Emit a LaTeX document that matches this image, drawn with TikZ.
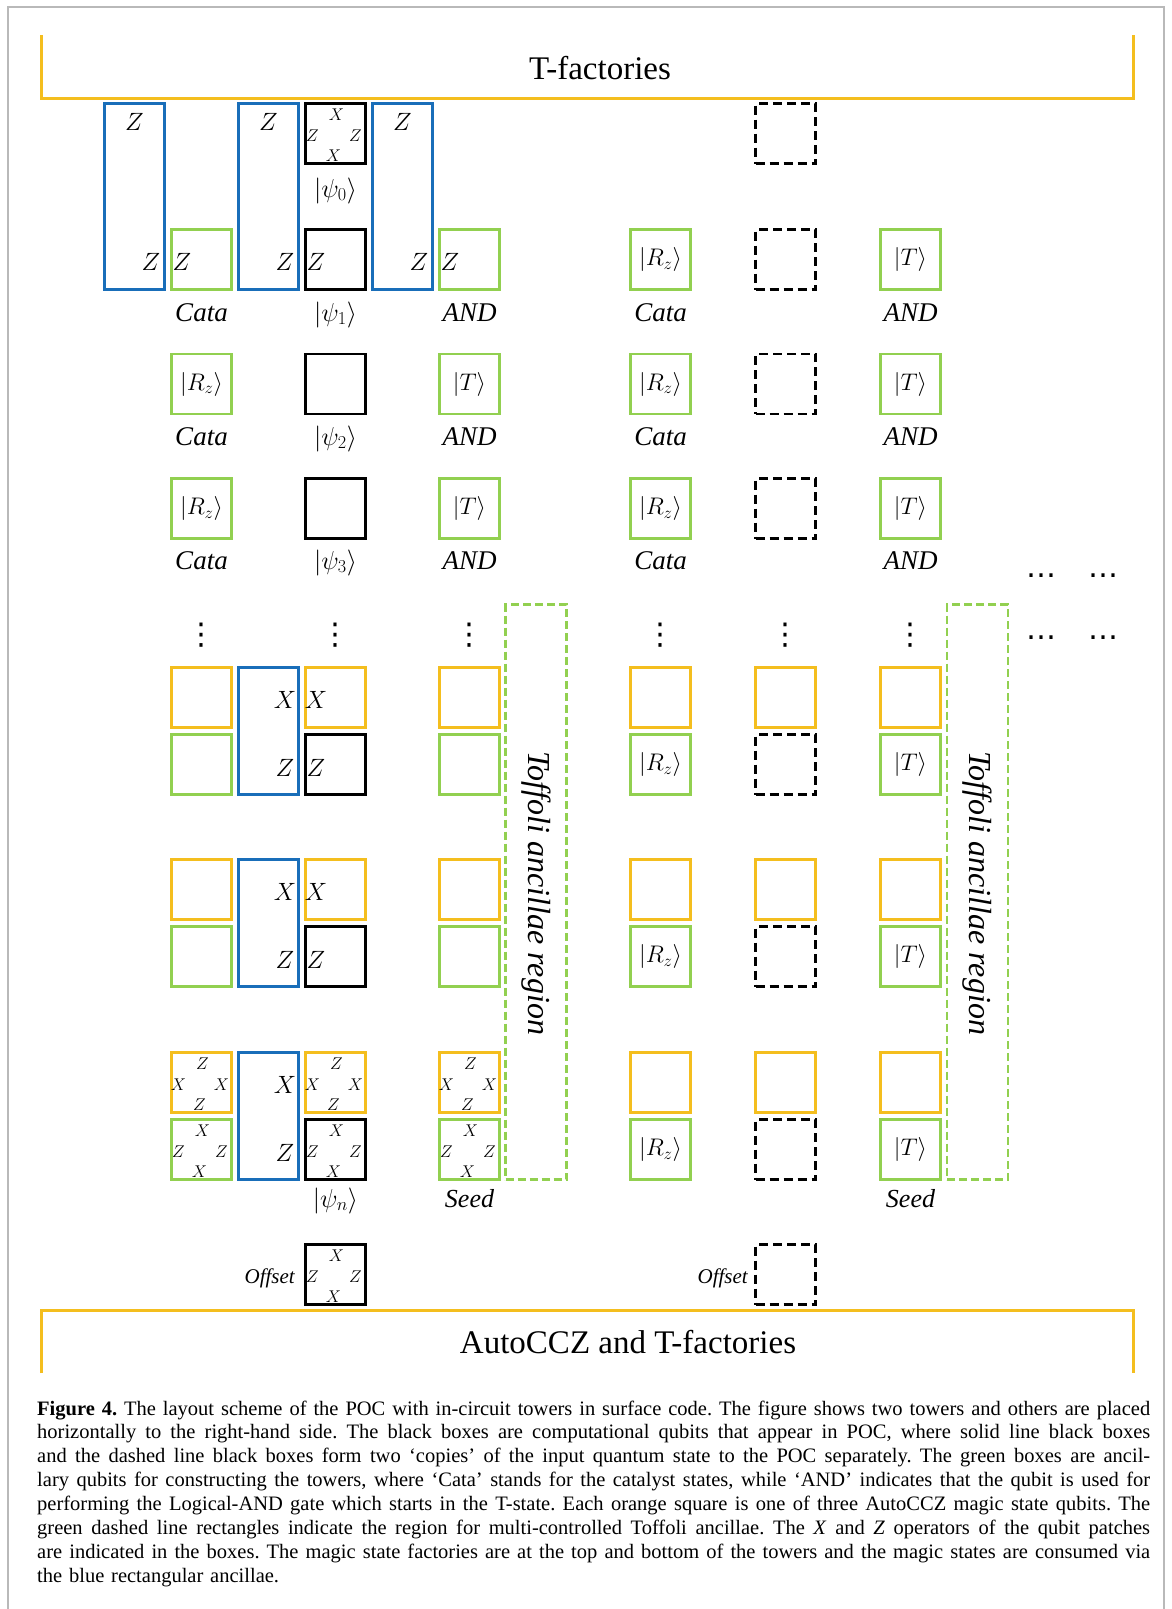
\RequirePackage{fix-cm}
\documentclass[tikz,border=0pt]{standalone}
\usepackage{fontspec}
\setmainfont{Liberation Serif}
\newfontfamily\dejavu{DejaVu Sans}
\definecolor{qyel}{RGB}{244,190,30}
\definecolor{qblue}{RGB}{25,110,185}
\definecolor{qgreen}{RGB}{146,208,80}
\definecolor{framec}{RGB}{185,185,185}
\tikzset{
  qb/.style={draw, line width=2.6pt, minimum width=60pt, minimum height=60pt, inner sep=0pt, font=\fontsize{24}{24}\selectfont},
  gq/.style={qb, draw=qgreen},
  yq/.style={qb, draw=qyel},
  kq/.style={qb, draw=black},
  dq/.style={qb, draw=black, dash pattern=on 9pt off 5pt},
  bq/.style={qb, draw=qblue, minimum height=#1},
  sm/.style={inner sep=0pt, font=\fontsize{17}{17}\selectfont},
  big/.style={inner sep=0pt, font=\fontsize{25}{25}\selectfont},
  lab/.style={inner sep=0pt, anchor=base, font=\fontsize{27}{27}\selectfont\itshape},
  klab/.style={inner sep=0pt, anchor=base, font=\fontsize{26}{26}\selectfont},
  offl/.style={inner sep=0pt, anchor=base east, font=\fontsize{21}{21}\selectfont\itshape},
  brk/.style={draw=qyel, line width=3pt},
  btxt/.style={inner sep=0pt, anchor=base, font=\fontsize{33}{33}\selectfont},
  tof/.style={draw=qgreen, line width=2.6pt, dash pattern=on 8pt off 4pt, minimum width=61pt, minimum height=575pt, inner sep=0pt},
  toftxt/.style={inner sep=0pt, rotate=-90, font=\fontsize{32}{32}\selectfont\itshape},
  dots/.style={inner sep=0pt, font=\dejavu\fontsize{30}{30}\selectfont},
}
\newcommand\zxpat[1]{%
  \node[sm] (#1-t) at ([shift={(1,-19)}]#1.center) {$Z$};
  \node[sm] (#1-l) at ([shift={(-23,2)}]#1.center) {$X$};
  \node[sm] (#1-r) at ([shift={(20,2)}]#1.center) {$X$};
  \node[sm] (#1-b) at ([shift={(-2,22.5)}]#1.center) {$Z$};}
\newcommand\xzpat[1]{%
  \node[sm] (#1-t) at ([shift={(1,-19)}]#1.center) {$X$};
  \node[sm] (#1-l) at ([shift={(-23,2)}]#1.center) {$Z$};
  \node[sm] (#1-r) at ([shift={(20,2)}]#1.center) {$Z$};
  \node[sm] (#1-b) at ([shift={(-2,22.5)}]#1.center) {$X$};}
\newcommand\capline[1]{\hbox to 1113pt{\spaceskip=0.25em plus 1em minus 0.09em\relax#1}}
\begin{document}
\begin{tikzpicture}[x=1pt,y=-1pt]
\useasboundingbox (0,0) rectangle (1171,1609);
\fill[white] (0,0) rectangle (1171,1609);
\draw[framec, line width=2pt] (8,1615) -- (8,7) -- (1164,7) -- (1164,1615);

% factory brackets
\coordinate (ta) at (41,35); \coordinate (tb) at (41,98);
\coordinate (tc) at (1133,98); \coordinate (td) at (1133,35);
\draw[brk] (ta) -- (tb) -- (tc) -- (td);
\node[btxt] (ttxt) at (600,79) {T-factories};
\coordinate (ba) at (41,1373); \coordinate (bb) at (41,1310);
\coordinate (bc) at (1133,1310); \coordinate (bd) at (1133,1373);
\draw[brk] (ba) -- (bb) -- (bc) -- (bd);
\node[btxt] (btxt) at (628,1353) {AutoCCZ and T-factories};

% ---------- left tower, top part ----------
\node[bq=186pt] (b1) at (134.5,196.5) {};
\node[bq=186pt] (b3) at (268.5,196.5) {};
\node[bq=186pt] (b5) at (402.5,196.5) {};
\node[big] (b1zt) at (134.5,122) {$Z$};
\node[big] (b3zt) at (268.5,122) {$Z$};
\node[big] (b5zt) at (402.5,122) {$Z$};
\node[big] (b1zb) at (151,262) {$Z$};
\node[big] (b3zb) at (285,262) {$Z$};
\node[big] (b5zb) at (419,262) {$Z$};
\node[kq] (p0) at (335.5,133.5) {}; \xzpat{p0}
\node[klab] (p0l) at (335.5,197) {$|\psi_0\rangle$};

\node[gq] (ca1) at (201.5,259.5) {};
\node[kq] (p1) at (335.5,259.5) {};
\node[gq] (an1) at (469.5,259.5) {};
\node[big] (ca1z) at (182,262) {$Z$};
\node[big] (p1z) at (316,262) {$Z$};
\node[big] (an1z) at (450,262) {$Z$};
\node[lab] (ca1l) at (201.5,321) {Cata};
\node[klab] (p1l) at (335.5,321) {$|\psi_1\rangle$};
\node[lab] (an1l) at (469.5,321) {AND};

\foreach \r/\y/\yb in {2/384/445, 3/508.5/569} {
  \node[gq] (ca\r) at (201.5,\y) {$|R_z\rangle$};
  \node[kq] (p\r) at (335.5,\y) {};
  \node[gq] (an\r) at (469.5,\y) {$|T\rangle$};
  \node[lab] (ca\r l) at (201.5,\yb) {Cata};
  \node[klab] (p\r l) at (335.5,\yb) {$|\psi_{\r}\rangle$};
  \node[lab] (an\r l) at (469.5,\yb) {AND};
}

% ---------- right tower, top part ----------
\node[dq] (q0) at (785.5,133.5) {};
\foreach \r/\y/\yb in {1/259.5/321, 2/384/445, 3/508.5/569} {
  \node[gq] (rz\r) at (660.5,\y) {$|R_z\rangle$};
  \node[dq] (q\r) at (785.5,\y) {};
  \node[gq] (rt\r) at (910.5,\y) {$|T\rangle$};
  \node[lab] (rz\r l) at (660.5,\yb) {Cata};
  \node[lab] (rt\r l) at (910.5,\yb) {AND};
}

% ---------- dots ----------
\foreach \n/\x in {1/201.5, 2/335.5, 3/469.5, 4/660.5, 5/785.5, 6/910.5} {
  \node[dots] (vd\n) at (\x,635) {⋮};
}
\node[dots] (hd1) at (1041,576) {…};
\node[dots] (hd2) at (1103,576) {…};
\node[dots] (hd3) at (1041,638) {…};
\node[dots] (hd4) at (1103,638) {…};

% ---------- Toffoli regions ----------
\node[tof] (tofL) at (536,892) {};
\node[toftxt] (tofLt) at (536,893) {Toffoli ancillae region};
\node[tof] (tofR) at (977.5,892) {};
\node[toftxt] (tofRt) at (977.5,893) {Toffoli ancillae region};

% ---------- lower groups ----------
\foreach \g/\yc in {1/697.5, 2/889.5, 3/1082.5} {
  \pgfmathsetmacro\gc{\yc+67}
  \pgfmathsetmacro\bc{\yc+33.5}
  % left tower
  \node[yq] (ly2\g) at (201.5,\yc) {};
  \node[gq] (lg2\g) at (201.5,\gc) {};
  \node[bq=127pt] (lb\g) at (268.5,\bc) {};
  \node[yq] (ly4\g) at (335.5,\yc) {};
  \node[kq] (lk4\g) at (335.5,\gc) {};
  \node[yq] (ly6\g) at (469.5,\yc) {};
  \node[gq] (lg6\g) at (469.5,\gc) {};
  \node[big] (lbx\g) at (285,\yc+2.5) {$X$};
  \node[big] (lbz\g) at (285,\gc+3.5) {$Z$};
  % right tower
  \node[yq] (ry1\g) at (660.5,\yc) {};
  \node[gq] (rg1\g) at (660.5,\gc) {$|R_z\rangle$};
  \node[yq] (ry2\g) at (785.5,\yc) {};
  \node[dq] (rk2\g) at (785.5,\gc) {};
  \node[yq] (ry3\g) at (910.5,\yc) {};
  \node[gq] (rg3\g) at (910.5,\gc) {$|T\rangle$};
}
\node[big] (l4x1) at (316,700) {$X$};
\node[big] (l4z1) at (316,768) {$Z$};
\node[big] (l4x2) at (316,892) {$X$};
\node[big] (l4z2) at (316,960) {$Z$};
\zxpat{ly23} \xzpat{lg23}
\zxpat{ly43} \xzpat{lk43}
\zxpat{ly63} \xzpat{lg63}
\node[klab] (pnl) at (335.5,1207) {$|\psi_n\rangle$};
\node[lab, font=\fontsize{26}{26}\selectfont\itshape] (sdl) at (469.5,1207) {Seed};
\node[lab, font=\fontsize{26}{26}\selectfont\itshape] (sdr) at (910.5,1207) {Seed};

% ---------- offsets ----------
\node[kq] (offL) at (335.5,1274.5) {}; \xzpat{offL}
\node[offl] (offLl) at (295,1283) {Offset};
\node[dq] (offR) at (785.5,1274.5) {};
\node[offl] (offRl) at (748,1283) {Offset};

% ---------- caption ----------
\node[anchor=base west, inner sep=0pt, text width=1113pt, font=\fontsize{20.5}{23.9}\selectfont\frenchspacing] (cap) at (37,1415) {%
\capline{\textbf{Figure 4.} The layout scheme of the POC with in-circuit towers in surface code. The figure shows two towers and others are placed}
\capline{horizontally to the right-hand side. The black boxes are computational qubits that appear in POC, where solid line black boxes}
\capline{and the dashed line black boxes form two ‘copies’ of the input quantum state to the POC separately. The green boxes are ancil-}
\capline{lary qubits for constructing the towers, where ‘Cata’ stands for the catalyst states, while ‘AND’ indicates that the qubit is used for}
\capline{performing the Logical-AND gate which starts in the T-state. Each orange square is one of three AutoCCZ magic state qubits. The}
\capline{green dashed line rectangles indicate the region for multi-controlled Toffoli ancillae. The \textit{X} and \textit{Z} operators of the qubit patches}
\capline{are indicated in the boxes. The magic state factories are at the top and bottom of the towers and the magic states are consumed via}
\hbox{the blue rectangular ancillae.}};
\end{tikzpicture}
\end{document}
